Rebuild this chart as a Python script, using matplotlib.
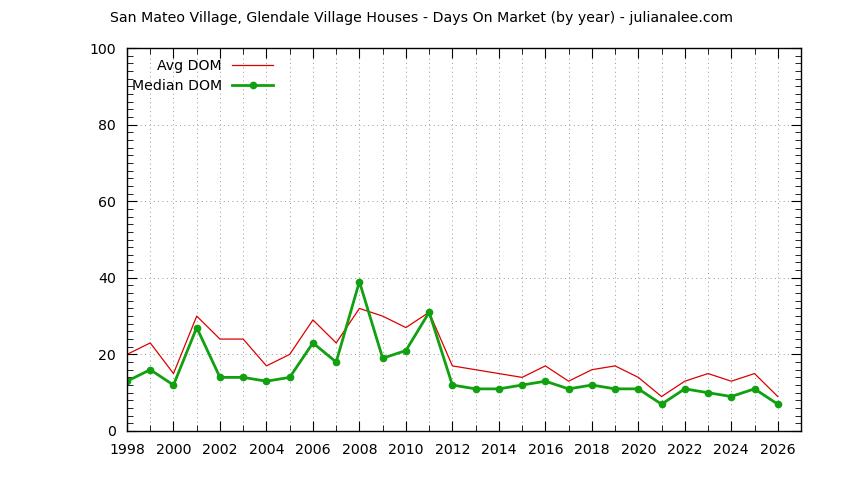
import matplotlib
matplotlib.use("Agg")
import matplotlib.pyplot as plt
from matplotlib.ticker import MultipleLocator

years = list(range(1998, 2027))
avg_dom = [20, 23, 15, 30, 24, 24, 17, 20, 29, 23, 32, 30, 27, 31,
           17, 16, 15, 14, 17, 13, 16, 17, 14, 9, 13, 15, 13, 15, 9]
median_dom = [13, 16, 12, 27, 14, 14, 13, 14, 23, 18, 39, 19, 21, 31,
              12, 11, 11, 12, 13, 11, 12, 11, 11, 7, 11, 10, 9, 11, 7]
title = "San Mateo Village, Glendale Village Houses - Days On Market (by year) - julianalee.com"

plt.rcParams['font.family'] = ['DejaVu Sans']
fs = 10.2
fig = plt.figure(figsize=(8.44, 4.8), dpi=100)
ax = fig.add_axes([127/844, 1-431/480, (801-127)/844, (431-48)/480])

ax.plot(years, avg_dom, color='#dd0000', lw=0.9, label='Avg DOM')
ax.plot(years, median_dom, color='#10a010', lw=2.0, marker='o', ms=4.5,
        label='Median DOM')

ax.set_xlim(1998, 2027)
ax.set_ylim(0, 100)
ax.xaxis.set_major_locator(MultipleLocator(2))
ax.xaxis.set_minor_locator(MultipleLocator(1))
ax.yaxis.set_major_locator(MultipleLocator(20))
ax.yaxis.set_minor_locator(MultipleLocator(2))
ax.tick_params(which='both', direction='in', top=True, right=True, labelsize=fs)
ax.tick_params(axis='x', pad=9)
ax.tick_params(axis='y', pad=8)
ax.tick_params(which='major', length=7)
ax.tick_params(which='minor', length=4)
ax.grid(True, which='both', axis='x', color='#999999', ls=(0, (1, 3.5)), lw=0.7)
ax.grid(True, which='major', axis='y', color='#999999', ls=(0, (1, 3.5)), lw=0.7)
for s in ax.spines.values():
    s.set_linewidth(1.0)

leg = ax.legend(loc='upper left', bbox_to_anchor=(-0.012, 1.004), frameon=False,
                markerfirst=False, fontsize=fs, handlelength=2.9,
                handletextpad=0.75, labelspacing=0.4, alignment='right',
                borderaxespad=0.5)
for t in leg.get_texts():
    t.set_ha('right')

fig.text(0.5, 1-18/480, title, ha='center', va='center', fontsize=fs)
fig.savefig('out.png', dpi=100)
